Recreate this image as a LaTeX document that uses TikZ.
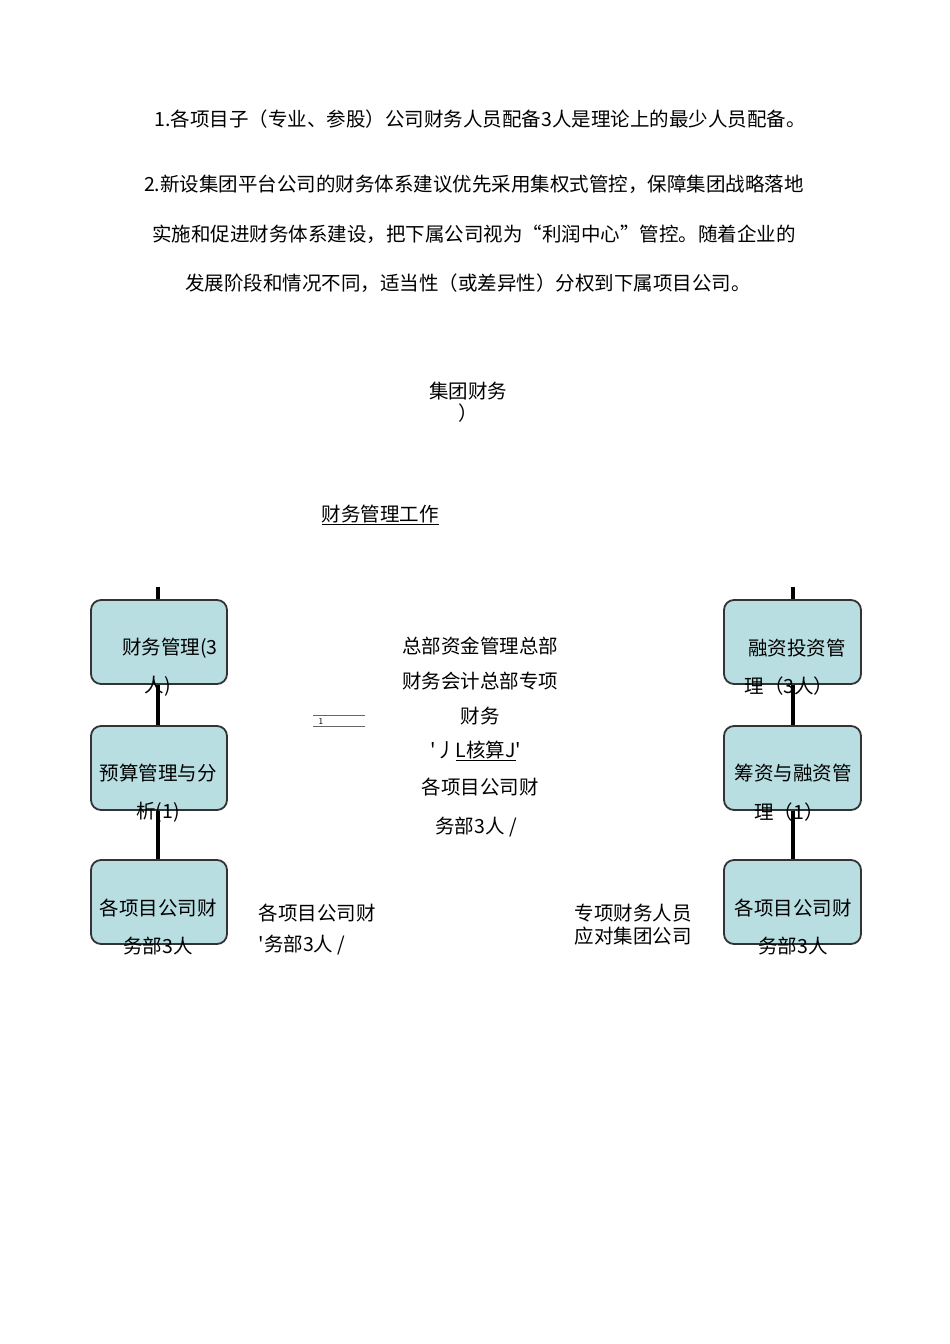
\documentclass[tikz,border=0pt]{standalone}
\usepackage{fontspec}
\newfontfamily\cjk{Noto Sans CJK SC}
\definecolor{boxfill}{RGB}{184,222,226}
\begin{document}
\begin{tikzpicture}[x=1pt,y=-1pt,
  box/.style={draw=black!80,line width=1.8pt,fill=boxfill,rounded corners=10pt},
  txt/.style={font=\cjk\fontsize{19.5}{22}\selectfont,inner sep=0pt},
  link/.style={line width=3.5pt}]
\useasboundingbox (0,0) rectangle (950,1344);
\node[txt] (p1) at (480,119) {1.各项目子（专业、参股）公司财务人员配备3人是理论上的最少人员配备。};
\node[txt] (p2) at (474,184) {2.新设集团平台公司的财务体系建议优先采用集权式管控，保障集团战略落地};
\node[txt] (p3) at (474,234) {实施和促进财务体系建设，把下属公司视为“利润中心”管控。随着企业的};
\node[txt] (p4) at (468,283) {发展阶段和情况不同，适当性（或差异性）分权到下属项目公司。};
\node[txt] (g1) at (468,391) {集团财务};
\node[txt] (g2) at (468,413) {）};
\node[txt] (w) at (380,515) {\underline{财务管理工作}};
\coordinate (lt) at (158,587);
\coordinate (rt) at (793,587);
\draw[link] (lt) -- (158,860);
\draw[link] (rt) -- (793,860);
\draw[box] (91,600) rectangle (227,684);
\draw[box] (91,726) rectangle (227,810);
\draw[box] (91,860) rectangle (227,944);
\draw[box] (724,600) rectangle (861,684);
\draw[box] (724,726) rectangle (861,810);
\draw[box] (724,860) rectangle (861,944);
\node[txt] (l1a) at (170,648) {财务管理(3};
\node[txt] (l1b) at (158,686) {人)};
\node[txt] (l2a) at (158,773) {预算管理与分};
\node[txt] (l2b) at (158,812) {析(1)};
\node[txt] (l3a) at (158,908) {各项目公司财};
\node[txt] (l3b) at (158,946) {务部3人};
\node[txt] (r1a) at (797,648) {融资投资管};
\node[txt] (r1b) at (789,686) {理（3人）};
\node[txt] (r2a) at (793,773) {筹资与融资管};
\node[txt] (r2b) at (789,812) {理（1）};
\node[txt] (r3a) at (793,908) {各项目公司财};
\node[txt] (r3b) at (793,946) {务部3人};
\node[txt] (c1) at (480,646) {总部资金管理总部};
\node[txt] (c2) at (480,681) {财务会计总部专项};
\node[txt] (c3) at (480,716) {财务};
\node[txt] (c4) at (476,751) {'丿\underline{L核算J}'};
\node[txt] (c5) at (480,787) {各项目公司财};
\node[txt] (c6) at (476,827) {务部3人 /};
\draw[black!60,line width=0.8pt] (313,715) -- (365,715) (313,726) -- (365,726);
\node[font=\sffamily\small,inner sep=0pt] (one) at (321,721) {1};
\node[txt] (b1) at (317,913) {各项目公司财};
\node[txt] (b2) at (302,945) {'务部3人 /};
\node[txt] (s1) at (633,913) {专项财务人员};
\node[txt] (s2) at (633,936) {应对集团公司};
\end{tikzpicture}
\end{document}
